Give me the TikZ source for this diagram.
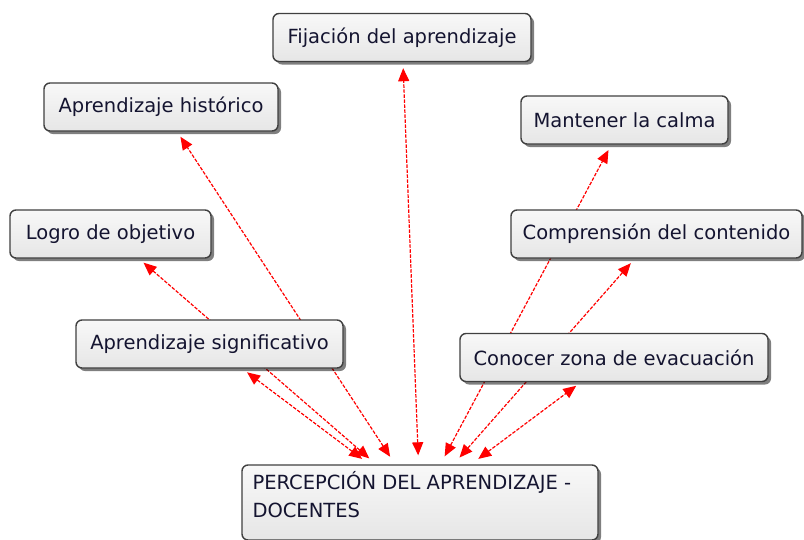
\documentclass[tikz,border=0pt]{standalone}
\usepackage{fontspec}
\setmainfont{DejaVu Sans}
\usetikzlibrary{arrows.meta,shadows,backgrounds}
\definecolor{boxline}{HTML}{404040}
\definecolor{boxtop}{HTML}{F8F8F8}
\definecolor{boxbot}{HTML}{E6E6E6}
\definecolor{txt}{HTML}{141430}
\tikzset{
  box/.style={draw=boxline, line width=1.4pt, rounded corners=6pt,
    top color=boxtop, bottom color=boxbot,
    drop shadow={shadow xshift=3pt, shadow yshift=-3pt, fill=black, opacity=0.5},
    font=\fontsize{19.5}{28}\selectfont, text=txt,
    minimum height=48pt, inner xsep=10pt, anchor=center},
  boxtext/.style={font=\fontsize{19.5}{28}\selectfont, text=txt, inner sep=0pt,
    align=left, anchor=north west},
  link/.style={draw=red, line width=1.2pt, dash pattern=on 3.5pt off 1.5pt,
    {Triangle[length=13pt,width=11pt]}-{Triangle[length=13pt,width=11pt]},
    shorten <=9pt, shorten >=6pt}
}
\begin{document}
\begin{tikzpicture}[x=1pt,y=-1pt]
\useasboundingbox (0,0) rectangle (804,539);
\clip (0,0) rectangle (804,539);
\node[box, minimum width=258pt] (fij) at (402,37.5) {Fijación del aprendizaje};
\node[box, minimum width=234pt] (his) at (161,107) {Aprendizaje histórico};
\node[box, minimum width=201pt] (log) at (110.5,234) {Logro de objetivo};
\node[box, minimum width=267pt] (sig) at (209.5,344) {Aprendizaje significativo};
\node[box, minimum width=207pt] (man) at (624.5,120) {Mantener la calma};
\node[box, minimum width=291pt] (com) at (656.5,234) {Comprensión del contenido};
\node[box, minimum width=308pt] (con) at (614,357.5) {Conocer zona de evacuación};
\node[box, minimum width=356pt, minimum height=75pt] (per) at (420,502.5) {};
\node[boxtext] (pertxt) at ([xshift=11pt,yshift=-6.5pt]per.north west)
  {PERCEPCIÓN DEL APRENDIZAJE -\\DOCENTES};
\begin{scope}[on background layer]
\fill[white] (0,0) rectangle (804,539);
\foreach \n in {sig,log,his,fij,man,com,con} \draw[link] (per) -- (\n);
\end{scope}
\end{tikzpicture}
\end{document}
